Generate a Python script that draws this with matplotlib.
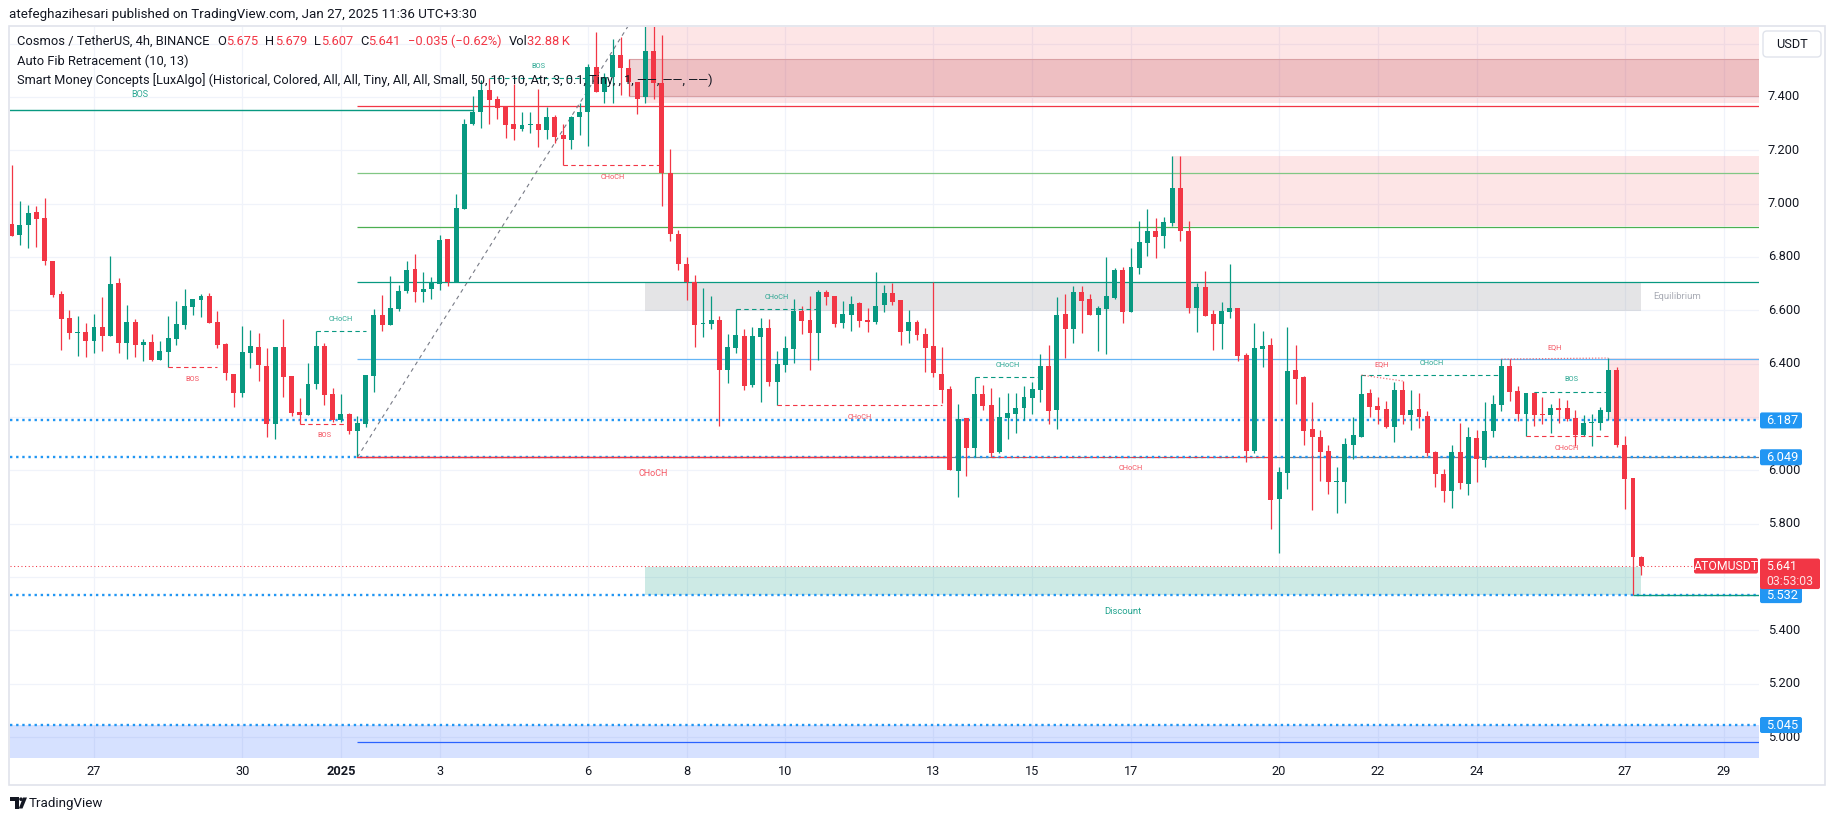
import matplotlib
matplotlib.use("Agg")
import matplotlib.pyplot as plt
import matplotlib.transforms as mtransforms
from matplotlib.patches import Rectangle, FancyBboxPatch, Polygon, Circle

plt.rcParams["font.family"] = ["Roboto", "DejaVu Sans"]

W, H = 1835, 821

# === Data: ATOM/USDT 4h candles, 2024-12-25 08:00 -> 2025-01-27 08:00 (index 0..198) ===
opens = [
    6.924, 6.884, 6.921, 6.969, 6.946, 6.785, 6.661, 6.571, 6.516, 6.519,
    6.486, 6.538, 6.505, 6.703, 6.479, 6.556, 6.468, 6.481, 6.415, 6.445,
    6.494, 6.546, 6.614, 6.640, 6.654, 6.556, 6.474, 6.361, 6.291, 6.438,
    6.463, 6.391, 6.175, 6.463, 6.354, 6.219, 6.209, 6.325, 6.466, 6.286,
    6.190, 6.211, 6.149, 6.175, 6.355, 6.583, 6.546, 6.606, 6.672, 6.755,
    6.670, 6.681, 6.700, 6.867, 6.705, 6.981, 7.298, 7.343, 7.426, 7.391,
    7.363, 7.297, 7.281, 7.295, 7.297, 7.277, 7.324, 7.256, 7.240, 7.325,
    7.343, 7.513, 7.418, 7.476, 7.557, 7.510, 7.456, 7.401, 7.572, 7.451,
    7.114, 6.886, 6.774, 6.705, 6.547, 6.550, 6.562, 6.377, 6.460, 6.503,
    6.320, 6.501, 6.534, 6.331, 6.396, 6.455, 6.597, 6.563, 6.516, 6.669,
    6.654, 6.552, 6.583, 6.627, 6.563, 6.556, 6.621, 6.665, 6.638, 6.523,
    6.556, 6.511, 6.466, 6.361, 6.305, 5.999, 6.196, 6.085, 6.286, 6.245,
    6.069, 6.197, 6.211, 6.234, 6.272, 6.301, 6.391, 6.226, 6.586, 6.530,
    6.669, 6.642, 6.582, 6.605, 6.646, 6.751, 6.594, 6.758, 6.852, 6.897,
    6.879, 6.927, 7.058, 6.897, 6.608, 6.687, 6.586, 6.548, 6.593, 6.608,
    6.434, 6.074, 6.456, 6.470, 5.892, 5.991, 6.376, 6.350, 6.155, 6.126,
    6.072, 5.956, 5.956, 6.095, 6.125, 6.290, 6.241, 6.230, 6.162, 6.301,
    6.207, 6.230, 6.204, 6.069, 5.986, 5.922, 6.069, 5.949, 6.121, 6.039,
    6.147, 6.245, 6.391, 6.297, 6.211, 6.290, 6.211, 6.207, 6.234, 6.234,
    6.196, 6.132, 6.177, 6.177, 6.219, 6.376, 6.095, 5.971, 5.675,
]
highs = [
    7.145, 7.010, 6.995, 6.991, 7.021, 6.785, 6.673, 6.601, 6.579, 6.553,
    6.586, 6.650, 6.804, 6.721, 6.620, 6.568, 6.493, 6.511, 6.485, 6.579,
    6.635, 6.680, 6.643, 6.661, 6.665, 6.598, 6.479, 6.361, 6.541, 6.526,
    6.515, 6.459, 6.463, 6.568, 6.354, 6.271, 6.404, 6.523, 6.478, 6.309,
    6.286, 6.215, 6.204, 6.358, 6.605, 6.658, 6.729, 6.695, 6.783, 6.810,
    6.742, 6.725, 6.882, 6.867, 7.036, 7.317, 7.402, 7.462, 7.470, 7.402,
    7.363, 7.449, 7.342, 7.342, 7.430, 7.361, 7.333, 7.299, 7.329, 7.376,
    7.522, 7.643, 7.490, 7.617, 7.623, 7.541, 7.456, 7.769, 7.700, 7.632,
    7.205, 6.900, 6.800, 6.732, 6.684, 6.654, 6.578, 6.511, 6.604, 6.530,
    6.539, 6.571, 6.569, 6.449, 6.504, 6.642, 6.615, 6.654, 6.676, 6.676,
    6.654, 6.635, 6.654, 6.632, 6.609, 6.744, 6.696, 6.704, 6.638, 6.601,
    6.563, 6.534, 6.706, 6.462, 6.316, 6.249, 6.196, 6.349, 6.319, 6.309,
    6.275, 6.290, 6.290, 6.316, 6.331, 6.436, 6.470, 6.650, 6.661, 6.691,
    6.691, 6.661, 6.616, 6.800, 6.759, 6.762, 6.833, 6.935, 6.980, 6.946,
    6.950, 7.178, 7.178, 6.935, 6.702, 6.747, 6.601, 6.631, 6.773, 6.608,
    6.439, 6.552, 6.522, 6.496, 6.012, 6.539, 6.471, 6.354, 6.256, 6.151,
    6.095, 6.012, 6.121, 6.199, 6.357, 6.305, 6.275, 6.260, 6.331, 6.335,
    6.301, 6.290, 6.222, 6.072, 6.005, 6.095, 6.177, 6.162, 6.151, 6.256,
    6.282, 6.417, 6.417, 6.316, 6.290, 6.294, 6.275, 6.249, 6.271, 6.264,
    6.226, 6.207, 6.211, 6.237, 6.421, 6.387, 6.129, 5.971, 5.679,
]
lows = [
    6.880, 6.843, 6.835, 6.839, 6.768, 6.648, 6.451, 6.494, 6.430, 6.425,
    6.441, 6.449, 6.505, 6.441, 6.419, 6.423, 6.411, 6.411, 6.415, 6.388,
    6.468, 6.528, 6.584, 6.576, 6.554, 6.460, 6.340, 6.239, 6.273, 6.385,
    6.333, 6.126, 6.119, 6.276, 6.205, 6.174, 6.209, 6.306, 6.246, 6.183,
    6.183, 6.138, 6.049, 6.164, 6.295, 6.523, 6.546, 6.599, 6.666, 6.632,
    6.632, 6.641, 6.675, 6.692, 6.705, 6.981, 7.293, 7.284, 7.300, 7.317,
    7.247, 7.240, 7.272, 7.265, 7.214, 7.244, 7.229, 7.143, 7.205, 7.258,
    7.217, 7.417, 7.376, 7.379, 7.406, 7.403, 7.336, 7.376, 7.394, 6.990,
    6.860, 6.750, 6.639, 6.463, 6.501, 6.531, 6.167, 6.329, 6.441, 6.301,
    6.314, 6.257, 6.316, 6.244, 6.370, 6.402, 6.511, 6.377, 6.415, 6.620,
    6.539, 6.533, 6.524, 6.539, 6.520, 6.550, 6.593, 6.620, 6.471, 6.479,
    6.488, 6.370, 6.349, 6.254, 6.001, 5.901, 5.980, 6.051, 6.226, 6.051,
    6.064, 6.117, 6.140, 6.189, 6.211, 6.256, 6.174, 6.155, 6.421, 6.477,
    6.515, 6.582, 6.447, 6.436, 6.642, 6.552, 6.594, 6.736, 6.804, 6.796,
    6.834, 6.916, 6.860, 6.589, 6.518, 6.579, 6.451, 6.455, 6.571, 6.410,
    6.032, 6.066, 6.389, 5.780, 5.691, 5.930, 6.249, 6.095, 5.851, 5.961,
    5.911, 5.840, 5.877, 6.042, 6.125, 6.200, 6.174, 6.159, 6.106, 6.174,
    6.151, 6.159, 6.054, 5.937, 5.881, 5.859, 5.930, 5.907, 5.956, 6.012,
    6.125, 6.222, 6.260, 6.185, 6.129, 6.166, 6.174, 6.140, 6.177, 6.185,
    6.091, 6.129, 6.091, 6.151, 6.189, 6.087, 5.855, 5.532, 5.607,
]
closes = [
    6.880, 6.920, 6.965, 6.944, 6.783, 6.659, 6.569, 6.513, 6.519, 6.486,
    6.538, 6.505, 6.699, 6.479, 6.556, 6.468, 6.481, 6.415, 6.448, 6.496,
    6.549, 6.616, 6.643, 6.654, 6.554, 6.471, 6.363, 6.291, 6.444, 6.466,
    6.393, 6.175, 6.463, 6.351, 6.216, 6.209, 6.324, 6.466, 6.284, 6.190,
    6.211, 6.149, 6.178, 6.358, 6.583, 6.546, 6.609, 6.673, 6.750, 6.670,
    6.680, 6.705, 6.864, 6.706, 6.982, 7.298, 7.343, 7.426, 7.388, 7.360,
    7.296, 7.281, 7.295, 7.297, 7.277, 7.325, 7.251, 7.241, 7.325, 7.343,
    7.513, 7.417, 7.476, 7.557, 7.510, 7.455, 7.393, 7.572, 7.451, 7.114,
    6.886, 6.774, 6.705, 6.546, 6.552, 6.564, 6.377, 6.461, 6.507, 6.316,
    6.503, 6.534, 6.331, 6.399, 6.459, 6.597, 6.561, 6.516, 6.669, 6.651,
    6.550, 6.586, 6.624, 6.560, 6.557, 6.616, 6.665, 6.631, 6.520, 6.556,
    6.508, 6.460, 6.366, 6.302, 6.001, 6.192, 6.085, 6.286, 6.242, 6.066,
    6.200, 6.215, 6.234, 6.275, 6.305, 6.391, 6.222, 6.582, 6.530, 6.669,
    6.635, 6.582, 6.609, 6.654, 6.751, 6.594, 6.762, 6.856, 6.897, 6.875,
    6.931, 7.058, 6.897, 6.608, 6.687, 6.579, 6.548, 6.597, 6.608, 6.428,
    6.074, 6.459, 6.467, 5.889, 5.994, 6.372, 6.342, 6.147, 6.126, 6.070,
    5.956, 5.960, 6.099, 6.132, 6.286, 6.237, 6.226, 6.162, 6.301, 6.207,
    6.226, 6.200, 6.065, 5.986, 5.922, 6.069, 5.952, 6.125, 6.042, 6.147,
    6.249, 6.391, 6.294, 6.211, 6.290, 6.207, 6.207, 6.234, 6.226, 6.192,
    6.132, 6.177, 6.181, 6.226, 6.376, 6.095, 5.967, 5.675, 5.641,
]

# time axis (candle index of midnight UTC)
date_pos = [10, 28, 40, 52, 70, 82, 94, 112, 124, 136, 154, 166, 178, 196, 208]
date_labels = ["27", "30", "2025", "3", "6", "8", "10", "13", "15", "17", "20", "22", "24", "27", "29"]
price_ticks = [5.0, 5.2, 5.4, 5.6, 5.8, 6.0, 6.2, 6.4, 6.6, 6.8, 7.0, 7.2, 7.4]
price_tick_labels = ["5.000", "5.200", "5.400", "5.600", "5.800", "6.000", "6.200",
                     "6.400", "6.600", "6.800", "7.000", "7.200", "7.400"]

# Auto Fib Retracement levels (0.236 .. 1.618) and their colours
fib_levels = [7.365, 7.114, 6.911, 6.706, 6.416, 6.049, 4.983]
fib_colors = ["#f23645", "#81c784", "#4caf50", "#089981", "#64b5f6", "#787b86", "#2962ff"]
fib_low, fib_high = (42, 6.049), (77, 7.769)

# user horizontal lines
blue_lines = [6.187, 6.049, 5.532, 5.045]
blue_line_labels = ["6.187", "6.049", "5.532", "5.045"]
last_price = 5.641

GREEN = "#089981"
RED = "#f23645"
TXT = "#131722"

fig = plt.figure(figsize=(W / 100, H / 100), dpi=100)
fig.patch.set_facecolor("white")
ident = mtransforms.IdentityTransform()

X0, X1 = -0.21, 212.25
ax = fig.add_axes([10 / W, (H - 757.7) / H, 1748.5 / W, 730.7 / H])
ax.set_xlim(X0, X1)
ax.set_ylim(4.9224, 7.6622)
ax.set_axis_off()

# grid
for p in price_ticks + [7.6]:
    ax.axhline(p, color="#f0f3fa", lw=0.9, zorder=0)
for d in date_pos:
    ax.axvline(d, color="#f0f3fa", lw=0.9, zorder=0)

# === Zones ===
def zone(x0, x1, y0, y1, fc, alpha, ec=None):
    ax.add_patch(Rectangle((x0, y0), x1 - x0, y1 - y0, facecolor=fc, alpha=alpha,
                           lw=0, zorder=1))
    if ec:
        ax.hlines([y0, y1], x0, x1, color=ec, lw=0.8, zorder=1)

zone(77, X1 + 1, 7.376, 7.90, RED, 0.13)
zone(75, X1 + 1, 7.403, 7.541, "#b22833", 0.20, ec="#d9a0a4")
zone(141, X1 + 1, 6.916, 7.178, RED, 0.13)
zone(194, X1 + 1, 6.189, 6.421, RED, 0.13)
zone(77, 198, 6.598, 6.705, "#787b86", 0.2)
zone(77, 198, 5.532, 5.639, GREEN, 0.2)
zone(X0 - 1, X1 + 1, 4.80, 5.045, "#2962ff", 0.19)

# fib lines
for lvl, col in zip(fib_levels, fib_colors):
    ax.hlines(lvl, fib_low[0], X1 + 1, color=col, lw=0.9, zorder=2)
ax.plot([fib_low[0], fib_high[0]], [fib_low[1], fib_high[1]], color="#787b86", lw=0.8,
        dashes=(3.5, 3.5), zorder=2)

# user lines
for p in blue_lines:
    ax.axhline(p, color="#2196f3", lw=1.7, dashes=(1.0, 1.6), zorder=2)
ax.axhline(last_price, color=RED, lw=0.75, dashes=(1, 2.5), zorder=2)

# === Candles ===
xs = list(range(len(opens)))
cols = [GREEN if c >= o else RED for o, c in zip(opens, closes)]
ax.vlines(xs, lows, highs, colors=cols, lw=0.9, zorder=3)
bodies = [max(abs(c - o), 0.004) for o, c in zip(opens, closes)]
bottoms = [min(o, c) for o, c in zip(opens, closes)]
ax.bar(xs, bodies, bottom=bottoms, width=0.6, color=cols, lw=0, zorder=3)

# === Smart Money Concepts structures ===
def structure(x0, x1, price, label, color, above, size=5.3, off=8.6, solid=False):
    kw = dict(color=color, lw=0.8 if not solid else 1.0, zorder=5)
    if solid:
        ax.plot([x0, x1], [price, price], **kw)
    else:
        ax.plot([x0, x1], [price, price], dashes=(4, 3), **kw)
    ax.annotate(label, ((x0 + x1) / 2, price), xytext=(0, off if above else -off),
                textcoords="offset points", ha="center", va="center", fontsize=size,
                color=color, alpha=0.85, zorder=6)

structure(-25, 56, 7.351, "BOS", GREEN, True, size=6.5, off=11.5, solid=True)
structure(58, 70, 7.470, "BOS", GREEN, True)
structure(67, 79, 7.143, "CHoCH", RED, False)
structure(19, 25, 6.386, "BOS", RED, False)
structure(35, 41, 6.174, "BOS", RED, False)
structure(37, 43, 6.521, "CHoCH", GREEN, True)
structure(88, 98, 6.604, "CHoCH", GREEN, True)
structure(93, 113, 6.244, "CHoCH", RED, False)
structure(42, 114, 6.049, "CHoCH", RED, False, size=6.5, off=11.5, solid=True)
structure(117, 125, 6.349, "CHoCH", GREEN, True)
structure(119, 153, 6.051, "CHoCH", RED, False)
structure(164, 181, 6.357, "CHoCH", GREEN, True)
structure(185, 194, 6.294, "BOS", GREEN, True)
structure(184, 194, 6.127, "CHoCH", RED, False)

# equal highs
for (a, pa), (b, pb) in [((164, 6.357), (169, 6.335)), ((181, 6.417), (194, 6.421))]:
    ax.plot([a, b], [pa, pb], color=RED, lw=0.9, dashes=(1, 1.5), alpha=0.7, zorder=5)
    ax.annotate("EQH", ((a + b) / 2, max(pa, pb)), xytext=(0, 7.5), textcoords="offset points",
                ha="center", va="center", fontsize=5.3, color=RED, alpha=0.85, zorder=6)

ax.hlines(5.532, 197, X1 + 1, color=GREEN, lw=1.0, zorder=5)
ax.text(199.5, 6.650, "Equilibrium", fontsize=6.8, color="#a9acb5", va="center", ha="left", zorder=6)
ax.annotate("Discount", (135, 5.532), xytext=(0, -11.5), textcoords="offset points",
            fontsize=6.8, color=GREEN, alpha=0.9, ha="center", va="center", zorder=6)

# === Price scale ===
def ypix(p):
    return ax.transData.transform((0, p))[1]

def price_box(x, y, w, h, fc, ec="none", r=2, lw=0):
    fig.add_artist(FancyBboxPatch((x, y), w, h, boxstyle=f"round,pad=0,rounding_size={r}",
                                  fc=fc, ec=ec, lw=lw, transform=ident, zorder=5))

# vertical pixel spans of the boxes that sit on the price scale
covered = [(ypix(p) - 8, ypix(p) + 8) for p in blue_lines]
covered.append((ypix(last_price) - 23, ypix(last_price) + 7.5))

yx = mtransforms.blended_transform_factory(ident, ax.transData)
for p, lab in zip(price_ticks, price_tick_labels):
    yp = ypix(p)
    if any(lo <= yp <= hi for lo, hi in covered):
        continue  # label hidden behind a price box
    fig.text(1768, p, lab, transform=yx, fontsize=9.2, color=TXT, va="center", ha="left",
             zorder=2)

for p, lab in zip(blue_lines, blue_line_labels):
    yp = ypix(p)
    price_box(1760, yp - 8, 42, 16, "#2196f3")
    fig.text(1766, yp, lab, transform=ident, fontsize=9.2, color="white", va="center",
             ha="left", zorder=6)

yp = ypix(last_price)
price_box(1760, yp - 23, 60, 30.5, RED)
fig.text(1766, yp, "5.641", transform=ident, fontsize=8.8, color="white", va="center",
         ha="left", zorder=6)
fig.text(1766, yp - 15, "03:53:03", transform=ident, fontsize=8.8, color="#fde0e2",
         va="center", ha="left", zorder=6)
price_box(1694, yp - 7.5, 64, 15.5, RED)
fig.text(1726, yp, "ATOMUSDT", transform=ident, fontsize=8.8, color="white",
         va="center", ha="center", zorder=6)

price_box(1763, H - 57, 58, 26, "white", ec="#e0e3eb", r=4, lw=1)
fig.text(1792, H - 44, "USDT", transform=ident, fontsize=9.2, color=TXT, va="center",
         ha="center", zorder=6)

# === Time scale ===
xt = mtransforms.blended_transform_factory(ax.transData, ident)
for d, lab in zip(date_pos, date_labels):
    fig.text(d, H - 771, lab, transform=xt, fontsize=9.2, color=TXT, va="center", ha="center",
             fontweight="bold" if lab == "2025" else "normal")

# frame
fig.add_artist(Rectangle((9, H - 785), 1816, 759, fc="none", ec="#e0e3eb", lw=1.2, transform=ident))

# === Header and legend ===
fig.text(9, H - 14, "atefeghazihesari published on TradingView.com, Jan 27, 2025 11:36 UTC+3:30",
         transform=ident, fontsize=9.6, color=TXT, va="center", ha="left")

renderer = fig.canvas.get_renderer()

def text_run(x, y, parts, size=9.3):
    for s, c, gap in parts:
        t = fig.text(x, H - y, s, transform=ident, fontsize=size, color=c, va="center",
                     ha="left", zorder=10)
        x += t.get_window_extent(renderer=renderer).width + gap

text_run(17, 41, [("Cosmos / TetherUS, 4h, BINANCE", TXT, 8), ("O", TXT, 0), ("5.675", RED, 7),
                  ("H", TXT, 0), ("5.679", RED, 7), ("L", TXT, 0), ("5.607", RED, 7),
                  ("C", TXT, 0), ("5.641", RED, 7), ("\u22120.035 (\u22120.62%)", RED, 7),
                  ("Vol", TXT, 0), ("32.88\u2009K", RED, 0)])
text_run(17, 61, [("Auto Fib Retracement (10, 13)", TXT, 0)])
text_run(17, 80.5, [("Smart Money Concepts [LuxAlgo] (Historical, Colored, All, All, Tiny, All, All, "
                     "Small, 50, 10, 10, Atr, 3, 0.1, Tiny, , 1, \u2014\u2014, \u2014\u2014, \u2014\u2014)",
                     TXT, 0)], size=9.2)

# TradingView logo
fig.add_artist(Rectangle((10, H - 801), 8.5, 3.6, fc=TXT, ec="none", transform=ident))
fig.add_artist(Rectangle((14.5, H - 808.5), 4, 11, fc=TXT, ec="none", transform=ident))
fig.add_artist(Circle((21, H - 799.2), 1.8, fc=TXT, ec="none", transform=ident))
fig.add_artist(Polygon([(23, H - 797.5), (27, H - 797.5), (22.5, H - 808.5), (18.8, H - 808.5)],
                       closed=True, fc=TXT, ec="none", transform=ident))
fig.text(29, H - 803, "TradingView", transform=ident, fontsize=9.6, color=TXT, va="center", ha="left")

fig.savefig("out.png", dpi=100, facecolor="white")
